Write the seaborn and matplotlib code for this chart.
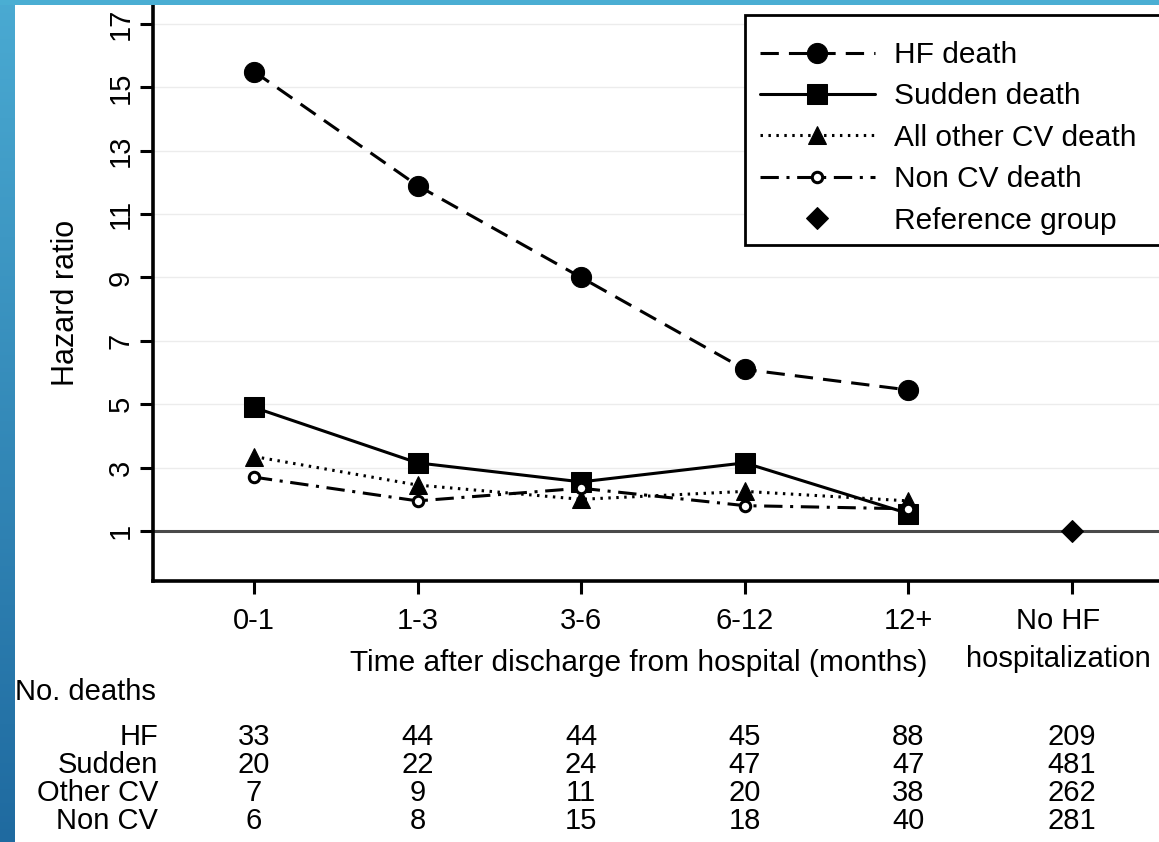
import numpy as np
import matplotlib
matplotlib.use('Agg')
import matplotlib.pyplot as plt
import matplotlib.transforms as mtransforms
from matplotlib.patches import Rectangle
import seaborn as sns

# Data
periods = ['0-1', '1-3', '3-6', '6-12', '12+']
ref_label = 'No HF\nhospitalization'
hr_hf = [15.5, 11.9, 9.0, 6.1, 5.45]
hr_sudden = [4.9, 3.15, 2.55, 3.15, 1.55]
hr_other_cv = [3.35, 2.45, 2.0, 2.25, 1.95]
hr_non_cv = [2.7, 1.95, 2.35, 1.8, 1.7]
hr_ref = [1.0]
y_ticks = [1, 3, 5, 7, 9, 11, 13, 15, 17]

# No. deaths table
row_names = ['HF', 'Sudden', 'Other CV', 'Non CV']
deaths_hf = [33, 44, 44, 45, 88, 209]
deaths_sudden = [20, 22, 24, 47, 47, 481]
deaths_other_cv = [7, 9, 11, 20, 38, 262]
deaths_non_cv = [6, 8, 15, 18, 40, 281]

# Setup
sns.set_style('ticks')
plt.rcParams['font.family'] = ['Liberation Sans', 'DejaVu Sans']
plt.rcParams['text.color'] = 'black'
plt.rcParams['axes.labelcolor'] = 'black'
plt.rcParams['xtick.color'] = 'black'
plt.rcParams['ytick.color'] = 'black'

W, H = 1159, 842
fig = plt.figure(figsize=(W / 100, H / 100), dpi=100)
fig.patch.set_facecolor('white')
ax = fig.add_axes([153 / W, (H - 581) / H, (1180 - 153) / W, 581 / H])

# Lines
sns.lineplot(x=periods, y=hr_hf, ax=ax, sort=False, color='black', lw=2.2,
             linestyle=(0, (6, 3.3)), marker='o', markersize=14.5,
             markeredgecolor='black', label='HF death')
sns.lineplot(x=periods, y=hr_sudden, ax=ax, sort=False, color='black', lw=2.2,
             linestyle='-', marker='s', markersize=15,
             markeredgecolor='black', label='Sudden death')
sns.lineplot(x=periods, y=hr_other_cv, ax=ax, sort=False, color='black', lw=2.2,
             linestyle=(0, (0.8, 1.8)), marker='^', markersize=13.5,
             markeredgecolor='black', label='All other CV death')
sns.lineplot(x=periods, y=hr_non_cv, ax=ax, sort=False, color='black', lw=2.2,
             linestyle=(0, (6, 2.5, 1, 2.5)), marker='o', markersize=7.5,
             markerfacecolor='white', markeredgecolor='black', markeredgewidth=2.2,
             label='Non CV death')
sns.lineplot(x=[ref_label], y=hr_ref, ax=ax, sort=False, color='black',
             linestyle='none', marker='D', markersize=11,
             markeredgecolor='black', label='Reference group')

ax.axhline(1, color='#4a4a4a', lw=2.2, zorder=1)

# Axes styling
ax.set_xlim(-0.617, 5.66)
ax.set_ylim(-0.578, 17.757)
ax.set_yticks(y_ticks)
ax.yaxis.grid(True, color='#ececec', lw=1)
ax.set_axisbelow(True)
sns.despine(ax=ax)
for s in ['left', 'bottom']:
    ax.spines[s].set_linewidth(2.6)
    ax.spines[s].set_color('black')
ax.tick_params(axis='both', direction='out', length=9.5, width=2.2, color='black')
ax.tick_params(axis='x', labelsize=21, pad=9)
ax.tick_params(axis='y', labelsize=21, pad=3.5, labelrotation=90)
for t in ax.get_yticklabels():
    t.set_va('center')
for t in ax.get_xticklabels():
    t.set_linespacing(1.45)
# last category label sits a bit left of its tick (it would run off the page)
last = ax.get_xticklabels()[-1]
last.set_transform(last.get_transform()
                   + mtransforms.ScaledTranslation(-0.14, 0, fig.dpi_scale_trans))

ax.set_xlabel('Time after discharge from hospital (months)', fontsize=21.5)
ax.xaxis.label.set_va('center')
ax.xaxis.set_label_coords((639 - 153) / 1027, (581 - 663) / 581)
ax.set_ylabel('Hazard ratio', fontsize=22)
ax.yaxis.label.set_va('center')
ax.yaxis.set_label_coords((66 - 153) / 1027, (581 - 303) / 581)

# Legend with white box
frame = Rectangle((745 / W, 1 - 245 / H), (1200 - 745) / W, 230 / H,
                  transform=fig.transFigure, facecolor='white', edgecolor='black',
                  lw=2, zorder=4, clip_on=False)
ax.add_artist(frame)
leg = ax.legend(loc='upper left', bbox_to_anchor=(760 / W, 1 - 41 / H),
                bbox_transform=fig.transFigure, frameon=False, fontsize=21.5,
                borderpad=0, borderaxespad=0, handlelength=3.85,
                handletextpad=0.65, labelspacing=0.45, numpoints=1)
leg.set_zorder(5)

# Table of number of deaths
blend = mtransforms.blended_transform_factory(ax.transData, fig.transFigure)
fig.text(15 / W, 1 - 692 / H, 'No. deaths', ha='left', va='center', fontsize=21)
row_y = [737, 765, 793, 821]
rows = [deaths_hf, deaths_sudden, deaths_other_cv, deaths_non_cv]
for name, vals, y in zip(row_names, rows, row_y):
    fig.text(158 / W, 1 - y / H, name, ha='right', va='center', fontsize=21)
    for i, v in enumerate(vals):
        ax.text(i, 1 - y / H, str(v), transform=blend, ha='center', va='center',
                fontsize=21)

# Blue slide border
left = fig.add_axes([0, 0, 15 / W, 1], zorder=10)
grad = np.linspace(0, 1, 256).reshape(-1, 1)
cmap = matplotlib.colors.LinearSegmentedColormap.from_list('b', ['#4aaad2', '#1f6aa0'])
left.imshow(grad, aspect='auto', cmap=cmap, extent=[0, 1, 0, 1])
left.axis('off')
top = fig.add_axes([0, 1 - 5 / H, 1, 5 / H], zorder=10)
top.set_facecolor('#4aaed3')
top.set_xticks([]); top.set_yticks([])
for s in top.spines.values():
    s.set_visible(False)

fig.savefig('out.png', dpi=100)
